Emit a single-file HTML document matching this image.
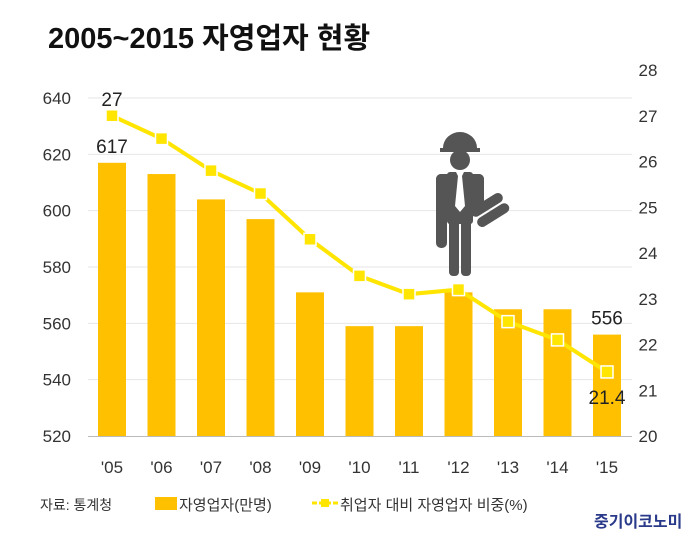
<!DOCTYPE html>
<html><head><meta charset="utf-8"><style>
body{margin:0;background:#fff;width:700px;height:537px;overflow:hidden;font-family:"Liberation Sans","Noto Sans CJK KR",sans-serif}
</style></head><body>
<svg width="700" height="537" font-family="Liberation Sans, Noto Sans CJK KR, sans-serif">
<text x="48" y="48" font-size="29" font-weight="bold" fill="#111">2005~2015 자영업자 현황</text>
<g id="grid"></g><g id="bars"></g><g id="line"></g><g id="axes"></g>
<g fill="#555">
<path d="M443 148 a17 16 0 0 1 34 0 h3 v4 h-40 v-4z"/>
<circle cx="460" cy="160" r="10"/>
<rect x="447" y="172" width="26" height="52" rx="3"/>
<rect x="436" y="174" width="11" height="74" rx="5"/>
<rect x="473" y="174" width="11" height="40" rx="5"/>
<rect x="449" y="215" width="10" height="61" rx="4"/>
<rect x="461" y="215" width="10" height="61" rx="4"/>
<rect x="436" y="174" width="20" height="10" rx="5"/>
<rect x="464" y="174" width="20" height="10" rx="5"/>
<path d="M456 172 h8 l-2 4 l3 30 l-5 6 l-5-6 l3-30z" fill="#fff"/>
<g transform="rotate(-32 490 210)"><rect x="472" y="199" width="36" height="10" rx="5"/><rect x="472" y="211" width="36" height="10" rx="5"/></g>
</g>
<g font-size="14" fill="#333">
<text x="40" y="510">자료: 통계청</text>
<rect x="155" y="497" width="22" height="13" fill="#FFC000"/>
<text x="179" y="510" font-size="15">자영업자(만명)</text>
<line x1="312" y1="503" x2="338" y2="503" stroke="#FFE500" stroke-width="3" stroke-dasharray="5,2"/>
<rect x="321" y="499" width="8" height="8" fill="#FFE500"/>
<text x="340" y="510" font-size="15">취업자 대비 자영업자 비중(%)</text>
</g>
<text x="594" y="527" font-size="16" font-weight="bold" fill="#2a3a8a">중기이코노미</text>
</svg>
<script>
const categories=["'05","'06","'07","'08","'09","'10","'11","'12","'13","'14","'15"];
const barValues=[617,613,604,597,571,559,559,571,565,565,556];
const lineValues=[27,26.5,25.8,25.3,24.3,23.5,23.1,23.2,22.5,22.1,21.4];
const leftTicks=[520,540,560,580,600,620,640];
const rightTicks=[20,21,22,23,24,25,26,27,28];
const NS="http://www.w3.org/2000/svg";
const yL=v=>436-(v-520)*(338/120);
const yR=v=>436-(v-20)*45.75;
const xC=i=>112+i*49.5;
function mk(t,a,p){const e=document.createElementNS(NS,t);for(const k in a)e.setAttribute(k,a[k]);document.getElementById(p).appendChild(e);return e;}
leftTicks.forEach(v=>{
 if(v>520){const g=mk('line',{x1:88,x2:632,y1:yL(v),y2:yL(v),stroke:'#e6e6e6','stroke-width':1},'grid');
 
 }
 const t=mk('text',{x:71,y:yL(v)+6,'font-size':17,fill:'#333','text-anchor':'end'},'axes');t.textContent=v;
 
 
});
rightTicks.forEach(v=>{
 const t=mk('text',{x:648,y:yR(v)+6,'font-size':17,fill:'#333','text-anchor':'middle'},'axes');t.textContent=v;
 
 
});
const ax=mk('line',{x1:88,x2:632,y1:436.5,y2:436.5,stroke:'#bbb'},'axes');


categories.forEach((c,i)=>{
 const r=mk('rect',{x:xC(i)-14,y:yL(barValues[i]),width:28,height:436-yL(barValues[i]),fill:'#FFC000'},'bars');
 
 
 const t=mk('text',{x:xC(i),y:473,'font-size':17,fill:'#333','text-anchor':'middle'},'axes');t.textContent=c;
 
 
});
const pts=lineValues.map((v,i)=>xC(i)+','+yR(v)).join(' ');
const pl=mk('polyline',{points:pts,fill:'none',stroke:'#FFE500','stroke-width':4},'line');


lineValues.forEach((v,i)=>{
 const m=mk('rect',{x:xC(i)-6,y:yR(v)-6,width:12,height:12,fill:'#FFE500',stroke:'#fff','stroke-width':1.5},'line');
 
 
});
const labels=[[0,yL(barValues[0])-10,barValues[0]],[10,yL(barValues[10])-10,barValues[10]],[0,yR(lineValues[0])-10,lineValues[0]],[10,yR(lineValues[10])+32,lineValues[10]]];
labels.forEach(l=>{
 const t=mk('text',{x:xC(l[0]),y:l[1],'font-size':19,fill:'#222','text-anchor':'middle'},'line');t.textContent=l[2];
 
 
});
</script>
</body></html>
